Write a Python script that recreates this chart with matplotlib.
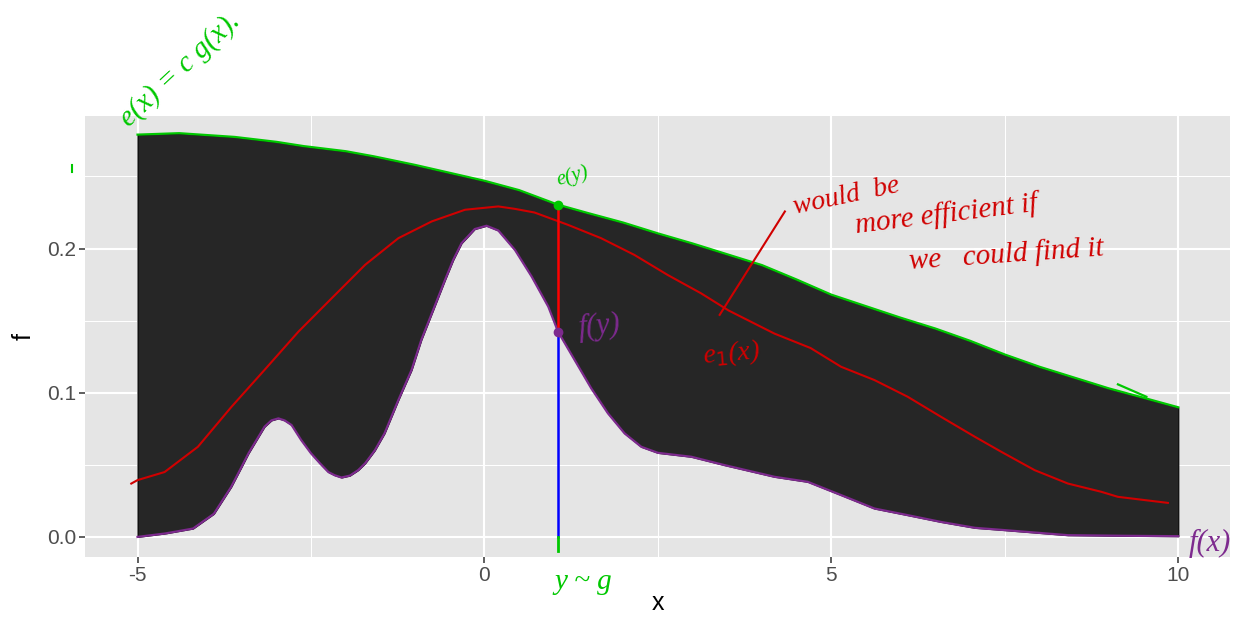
import matplotlib.pyplot as plt
from matplotlib.lines import Line2D
import numpy as np

# target density f(x) (lower edge of the dark band)
fx = [-5, -4.6, -4.2, -3.9, -3.65, -3.5, -3.4, -3.17, -3.07, -2.97, -2.88, -2.78,
      -2.64, -2.5, -2.37, -2.25, -2.16, -2.06, -1.94, -1.82, -1.72, -1.58, -1.44,
      -1.24, -1.05, -0.91, -0.72, -0.57, -0.45, -0.33, -0.24, -0.14, 0.03, 0.2,
      0.44, 0.68, 0.92, 1.06, 1.3, 1.54, 1.78, 2.02, 2.26, 2.5, 2.98, 3.46, 4.18,
      4.66, 5.14, 5.62, 6.1, 6.58, 7.07, 7.45, 8.41, 9.2, 10]
fy = [0.0, 0.0024, 0.0058, 0.016, 0.0347, 0.0486, 0.058, 0.0764, 0.0808, 0.0822,
      0.0808, 0.0776, 0.0671, 0.058, 0.051, 0.045, 0.0428, 0.0412, 0.0425, 0.0463,
      0.051, 0.060, 0.0718, 0.095, 0.1158, 0.1366, 0.1597, 0.178, 0.1921, 0.2037,
      0.2083, 0.2135, 0.2158, 0.2125, 0.199, 0.1806, 0.1597, 0.1424, 0.1227, 0.103,
      0.0857, 0.0718, 0.0625, 0.0583, 0.0556, 0.0498, 0.0417, 0.0382, 0.029, 0.0197,
      0.0151, 0.0104, 0.0063, 0.0049, 0.0012, 0.0008, 0.0005]

# envelope e(x) = c g(x) (upper edge)
ex = [-5, -4.4, -3.6, -3.0, -2.6, -2.0, -1.6, -1.0, -0.5, 0, 0.5, 1.06, 1.5, 2.0, 2.5,
      3.0, 3.5, 4.0, 4.5, 5.0, 5.5, 6.0, 6.5, 7.0, 7.5, 8.0, 8.5, 9.0, 9.5, 10]
ey = [0.279, 0.280, 0.2774, 0.274, 0.271, 0.2675, 0.264, 0.258, 0.2525, 0.247, 0.2405,
      0.2304, 0.2245, 0.218, 0.2105, 0.2035, 0.196, 0.1885, 0.1785, 0.168, 0.160,
      0.152, 0.1445, 0.136, 0.1265, 0.118, 0.1105, 0.103, 0.0965, 0.0899]

# better envelope e1(x)
e1x = [-5.09, -5, -4.61, -4.13, -3.65, -3.17, -2.68, -2.2, -1.72, -1.24, -0.76, -0.28,
       0.2, 0.44, 0.72, 1.2, 1.68, 2.16, 2.64, 3.12, 3.52, 4.18, 4.7, 5.14, 5.62, 6.1,
       6.58, 7.07, 7.45, 7.93, 8.41, 8.89, 9.13, 9.85]
e1y = [0.037, 0.0394, 0.045, 0.0625, 0.090, 0.1158, 0.1424, 0.1656, 0.1887, 0.2072,
       0.2188, 0.2269, 0.2292, 0.2275, 0.225, 0.2165, 0.2072, 0.1956, 0.1817, 0.169,
       0.157, 0.141, 0.131, 0.118, 0.1088, 0.0972, 0.0833, 0.0694, 0.059, 0.0463,
       0.037, 0.0313, 0.0278, 0.0236]

# the sampled point y ~ g
y_sample = 1.06
f_at_y = 0.1424
e_at_y = 0.2304

green = '#00C800'
red = '#D00000'
purple = '#7D2A8E'
hand = dict(family='Liberation Serif', style='italic')

fig = plt.figure(figsize=(12.39, 6.23), dpi=100)
ax = fig.add_axes([0.069, 0.106, 0.924, 0.708])
ax.set_facecolor('#E5E5E5')

# dark band between f and e
bx = np.union1d(fx, ex)
ax.fill_between(bx, np.interp(bx, fx, fy), np.interp(bx, ex, ey),
                color='#262626', edgecolor='black', linewidth=0.8, zorder=2)

# hand-drawn overlays
ax.plot(ex, ey, color=green, lw=1.6, zorder=3, solid_joinstyle='round')
ax.plot(fx, fy, color=purple, lw=1.6, zorder=3, solid_joinstyle='round')
ax.plot(e1x, e1y, color=red, lw=1.5, zorder=3, solid_joinstyle='round')
ax.plot([9.13, 9.54], [0.1058, 0.0972], color=green, lw=1.6, zorder=3)

ax.plot([y_sample, y_sample], [0, f_at_y], color='#0000FF', lw=1.8, zorder=4)
ax.plot([y_sample, y_sample], [f_at_y, e_at_y], color='#FF0000', lw=1.8, zorder=4)
ax.plot([y_sample, y_sample], [0, -0.0095], color=green, lw=2, zorder=4, clip_on=False)
ax.plot(y_sample, e_at_y, 'o', color=green, ms=6, zorder=5)
ax.plot(y_sample, f_at_y, 'o', color=purple, ms=6, zorder=5)
ax.plot([3.39, 4.33], [0.154, 0.2257], color=red, lw=1.5, zorder=4)

ax.text(1.27, 0.250, 'e(y)', color=green, fontsize=15, rotation=15,
        ha='center', va='center', **hand)
ax.text(1.66, 0.146, 'f(y)', color=purple, fontsize=22, rotation=5,
        ha='center', va='center', zorder=6, **hand)
ax.text(3.56, 0.127, r'e$_1$(x)', color=red, fontsize=20, rotation=5,
        ha='center', va='center', zorder=6, **hand)
ax.text(5.22, 0.236, 'would  be', color=red, fontsize=20, rotation=12,
        ha='center', va='center', **hand)
ax.text(6.66, 0.2234, 'more efficient if', color=red, fontsize=21, rotation=7,
        ha='center', va='center', **hand)
ax.text(7.52, 0.1956, 'we   could find it', color=red, fontsize=21, rotation=4,
        ha='center', va='center', **hand)
ax.text(10.45, -0.0045, 'f(x)', color=purple, fontsize=22, ha='center',
        va='center', clip_on=False, zorder=6, **hand)
ax.text(1.43, -0.0315, 'y ~ g', color=green, fontsize=21, ha='center',
        va='center', clip_on=False, **hand)
fig.text(0.145, 0.888, 'e(x) = c g(x).', color=green, fontsize=21, rotation=43,
         ha='center', va='center', **hand)
fig.add_artist(Line2D([0.0578, 0.0578], [0.724, 0.735], color=green, lw=1.5))

ax.set_xlim(-5.75, 10.75)
ax.set_ylim(-0.0139, 0.292)
ax.set_xticks([-5, 0, 5, 10])
ax.set_xticklabels(['-5', '0', '5', '10'])
ax.set_yticks([0.0, 0.1, 0.2])
ax.set_yticklabels(['0.0', '0.1', '0.2'])
ax.set_xticks([-2.5, 2.5, 7.5], minor=True)
ax.set_yticks([0.05, 0.15, 0.25], minor=True)
ax.grid(True, which='major', color='white', lw=1.5, zorder=0)
ax.grid(True, which='minor', color='white', lw=0.75, zorder=0)
ax.set_axisbelow(True)
for s in ax.spines.values():
    s.set_visible(False)
ax.tick_params(which='major', length=4.5, width=1.1, color='#333333',
               labelsize=15, labelcolor='#4D4D4D', pad=2)
ax.tick_params(which='minor', length=0)
for lab in ax.get_xticklabels() + ax.get_yticklabels():
    lab.set_family('Liberation Sans')

ax.set_xlabel('x', fontsize=18, family='Liberation Sans', labelpad=4)
ax.set_ylabel('f', fontsize=18, family='Liberation Sans', labelpad=8)

fig.savefig('out.png', dpi=100)
